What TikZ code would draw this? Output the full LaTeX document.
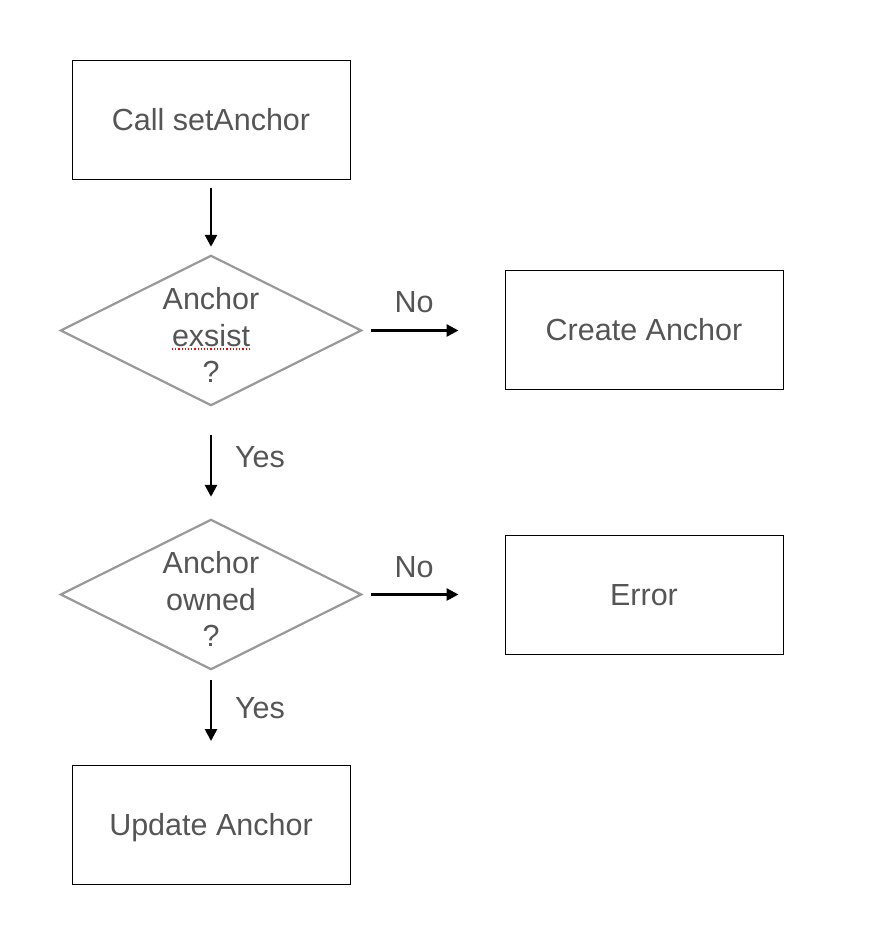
\documentclass[tikz,border=0pt]{standalone}
\usepackage{fontspec}
\setmainfont{Liberation Sans}
\usetikzlibrary{arrows.meta}
\definecolor{txt}{HTML}{555555}
\definecolor{dgray}{HTML}{999999}
\begin{document}
\begin{tikzpicture}[x=1pt,y=-1pt,
  every node/.style={text=txt,font=\fontsize{30.5}{36.5}\selectfont},
  procbox/.style={draw=black,line width=1pt,minimum width=278pt,minimum height=119pt,inner sep=0pt,text height=21pt,text depth=0pt},
  decbox/.style={minimum width=300pt,minimum height=149pt,inner sep=0pt},
  dectext/.style={align=center,inner sep=0pt},
  decline/.style={draw=dgray,line width=2.2pt,line join=miter},
  conn/.style={line width=2.7pt,-{Triangle[length=12pt,width=12pt]}},
  lbl/.style={inner sep=0pt}]
\useasboundingbox (0,0) rectangle (870,928);
\fill[white] (0,0) rectangle (870,928);

\node[procbox] (call) at (211,120.5) {Call setAnchor};
\node[decbox] (d1) at (211,330.5) {};
\node[dectext] (d1t) at (211,335) {Anchor\\exsist\\?};
\draw[decline] (d1.north) -- (d1.east) -- (d1.south) -- (d1.west) -- cycle;
\draw[red,dotted,line width=1.2pt] (172,349) -- (250,349);
\node[procbox] (create) at (644,330) {Create Anchor};
\node[decbox] (d2) at (211,594.5) {};
\node[dectext] (d2t) at (211,599) {Anchor\\owned\\?};
\draw[decline] (d2.north) -- (d2.east) -- (d2.south) -- (d2.west) -- cycle;
\node[procbox] (err) at (644,594.5) {Error};
\node[procbox] (upd) at (211,825) {Update Anchor};

\draw[conn,shorten <=7pt,shorten >=9pt] (call.south) -- (d1.north);
\draw[conn,shorten <=10pt,shorten >=46pt] (d1.east) -- (d1.east -| create.west);
\draw[conn,shorten <=30pt,shorten >=23pt] (d1.south) -- (d2.north);
\draw[conn,shorten <=10pt,shorten >=46pt] (d2.east) -- (d2.east -| err.west);
\draw[conn,shorten <=11pt,shorten >=24pt] (d2.south) -- (upd.north);

\node[lbl] (no1) at (414,302) {No};
\node[lbl] (yes1) at (260,457) {Yes};
\node[lbl] (no2) at (414,567) {No};
\node[lbl] (yes2) at (260,708) {Yes};
\end{tikzpicture}
\end{document}
